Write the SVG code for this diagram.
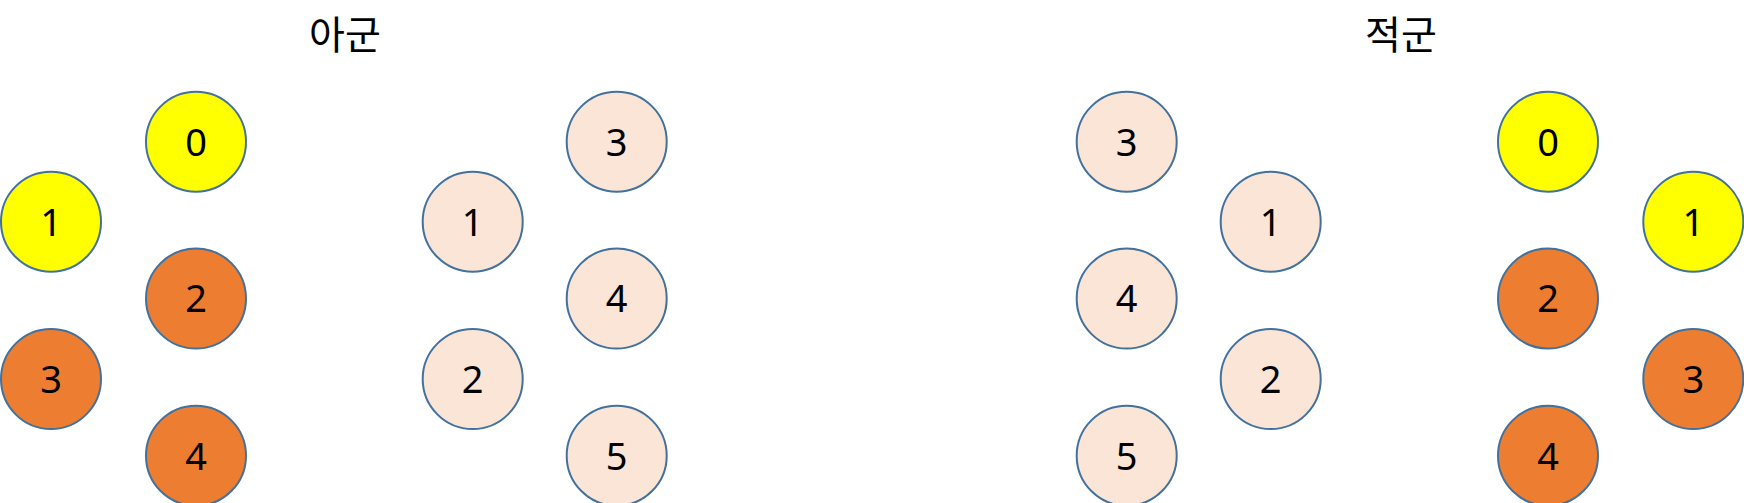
<svg xmlns="http://www.w3.org/2000/svg" width="1744" height="503" viewBox="0 0 1744 503">
<style>
.n{stroke:#41719C;stroke-width:2}
.y{fill:#FFFF00}
.o{fill:#ED7D31}
.p{fill:#FBE5D6}
.t{font-family:"Noto Sans","Noto Sans CJK KR",sans-serif;font-size:38px;fill:#000;text-anchor:middle}
.h{font-family:"Noto Sans CJK KR",sans-serif;font-size:39px;fill:#000;text-anchor:middle}
</style>
<rect width="1744" height="503" fill="#fff"/>
<text class="h" x="345" y="49">아군</text>
<text class="h" x="1401" y="49">적군</text>
<g id="a0"><circle class="n y" cx="196" cy="141.7" r="50"/><text class="t" x="196" y="155.5">0</text></g>
<g id="a1"><circle class="n y" cx="51" cy="221.7" r="50"/><text class="t" x="51" y="235.5">1</text></g>
<g id="a2"><circle class="n o" cx="196" cy="298.5" r="50"/><text class="t" x="196" y="312.3">2</text></g>
<g id="a3"><circle class="n o" cx="51" cy="379" r="50"/><text class="t" x="51" y="392.8">3</text></g>
<g id="a4"><circle class="n o" cx="196" cy="455.7" r="50"/><text class="t" x="196" y="469.5">4</text></g>
<g id="b3"><circle class="n p" cx="616.7" cy="141.7" r="50"/><text class="t" x="616.7" y="155.5">3</text></g>
<g id="b1"><circle class="n p" cx="472.7" cy="221.7" r="50"/><text class="t" x="472.7" y="235.5">1</text></g>
<g id="b4"><circle class="n p" cx="616.7" cy="298.5" r="50"/><text class="t" x="616.7" y="312.3">4</text></g>
<g id="b2"><circle class="n p" cx="472.7" cy="379" r="50"/><text class="t" x="472.7" y="392.8">2</text></g>
<g id="b5"><circle class="n p" cx="616.7" cy="455.7" r="50"/><text class="t" x="616.7" y="469.5">5</text></g>
<g id="c3"><circle class="n p" cx="1126.7" cy="141.7" r="50"/><text class="t" x="1126.7" y="155.5">3</text></g>
<g id="c1"><circle class="n p" cx="1270.7" cy="221.7" r="50"/><text class="t" x="1270.7" y="235.5">1</text></g>
<g id="c4"><circle class="n p" cx="1126.7" cy="298.5" r="50"/><text class="t" x="1126.7" y="312.3">4</text></g>
<g id="c2"><circle class="n p" cx="1270.7" cy="379" r="50"/><text class="t" x="1270.7" y="392.8">2</text></g>
<g id="c5"><circle class="n p" cx="1126.7" cy="455.7" r="50"/><text class="t" x="1126.7" y="469.5">5</text></g>
<g id="d0"><circle class="n y" cx="1548" cy="141.7" r="50"/><text class="t" x="1548" y="155.5">0</text></g>
<g id="d1"><circle class="n y" cx="1693.3" cy="221.7" r="50"/><text class="t" x="1693.3" y="235.5">1</text></g>
<g id="d2"><circle class="n o" cx="1548" cy="298.5" r="50"/><text class="t" x="1548" y="312.3">2</text></g>
<g id="d3"><circle class="n o" cx="1693.3" cy="379" r="50"/><text class="t" x="1693.3" y="392.8">3</text></g>
<g id="d4"><circle class="n o" cx="1548" cy="455.7" r="50"/><text class="t" x="1548" y="469.5">4</text></g>
<g id="connectors"/>
</svg>
